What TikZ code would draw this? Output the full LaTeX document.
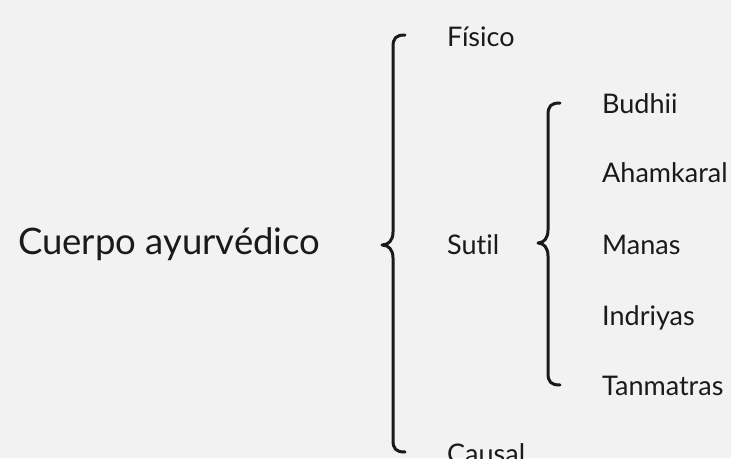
\documentclass[tikz,border=0pt]{standalone}
\usepackage{fontspec}
\setmainfont{Lato}[Ligatures=NoCommon]
\definecolor{bg}{HTML}{F2F2F2}
\definecolor{ink}{HTML}{1A1A1A}
\begin{document}
\begin{tikzpicture}[x=1pt,y=-1pt,
  lbl/.style={anchor=base west,inner sep=0pt,text=ink,font=\fontsize{27}{29}\selectfont},
  ttl/.style={anchor=base west,inner sep=0pt,text=ink,font=\fontsize{36.5}{38}\selectfont},
  brace/.style={draw=ink,line width=3pt,line cap=round,line join=round}]
\fill[bg] (0,0) rectangle (731,458);
\useasboundingbox (0,0) rectangle (731,458);
\begin{scope}
\clip (0,0) rectangle (731,458);
\node[ttl] (title) at (18,254) {Cuerpo ayurvédico};
\node[lbl] (fisico) at (447,46) {Físico};
\node[lbl] (sutil) at (447,254) {Sutil};
\node[lbl] (causal) at (447,463) {Causal};
\node[lbl] (budhii) at (602,113) {Budhii};
\node[lbl] (aham) at (602,182) {Ahamkaral};
\node[lbl] (manas) at (602,254) {Manas};
\node[lbl] (indr) at (602,325) {Indriyas};
\node[lbl] (tanm) at (602,395) {Tanmatras};
% big brace
\coordinate (b1top) at (405,35);
\coordinate (b1mid) at (382,245);
\coordinate (b1bot) at (405,452);
\draw[brace] (b1top) .. controls (396,35) and (393,38) .. (393,47)
  -- (393,232) .. controls (393,240) and (389,245) .. (b1mid)
  .. controls (389,245) and (393,250) .. (393,258)
  -- (393,440) .. controls (393,449) and (396,452) .. (b1bot);
% small brace
\coordinate (b2top) at (560,103);
\coordinate (b2mid) at (538,243);
\coordinate (b2bot) at (560,385);
\draw[brace] (b2top) .. controls (551,103) and (548,106) .. (548,115)
  -- (548,230) .. controls (548,238) and (544,243) .. (b2mid)
  .. controls (544,243) and (548,248) .. (548,256)
  -- (548,373) .. controls (548,382) and (551,385) .. (b2bot);
\end{scope}
\end{tikzpicture}
\end{document}
